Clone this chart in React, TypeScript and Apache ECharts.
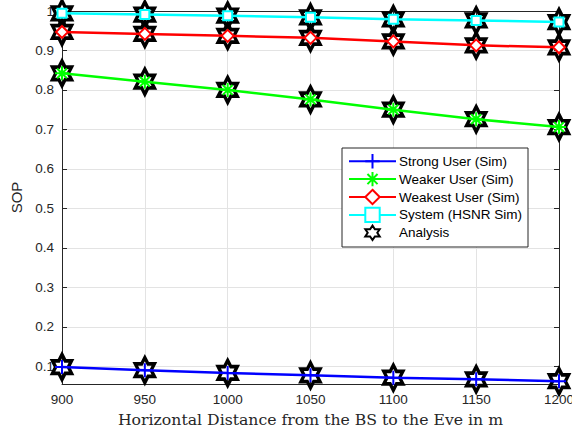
import React, { useEffect, useRef } from "react";
import * as echarts from "echarts";

// Horizontal distance from the BS to the Eve (m)
const distances = [900, 950, 1000, 1050, 1100, 1150, 1200];

// Secrecy outage probability per user / system
const strongUser = [0.098, 0.09, 0.083, 0.077, 0.071, 0.067, 0.062];
const weakerUser = [0.842, 0.821, 0.8, 0.776, 0.75, 0.726, 0.706];
const weakestUser = [0.947, 0.942, 0.937, 0.932, 0.923, 0.913, 0.908];
const systemHsnr = [0.994, 0.991, 0.988, 0.984, 0.979, 0.976, 0.972];

// Marker shapes
const PLUS = "path://M0,-10L0,10M-10,0L10,0";
const ASTERISK = "path://M0,-10L0,10M-10,0L10,0M-7,-7L7,7M-7,7L7,-7";
const HEXAGRAM =
  "path://M0,-1000L288.7,-500L866,-500L577,0L866,500L288.7,500L0,1000L-288.7,500L-866,500L-577,0L-866,-500L-288.7,-500Z";

const pairs = (ys: number[]) => distances.map((x, i) => [x, ys[i]]);

export default function App() {
  const ref = useRef<HTMLDivElement>(null);

  useEffect(() => {
    if (!ref.current) return;
    const chart = echarts.init(ref.current, null, { renderer: "svg" });

    const axisText = { color: "#262626", fontFamily: "Liberation Sans, Arial, sans-serif", fontSize: 13.5 };

    const simSeries = (
      name: string,
      data: number[],
      color: string,
      symbol: string,
      symbolSize: number,
      fill: string
    ) => ({
      name,
      type: "line",
      data: pairs(data),
      symbol,
      symbolSize,
      showAllSymbol: true,
      clip: false,
      z: 3,
      lineStyle: { color, width: 2.5 },
      itemStyle: { color: fill, borderColor: color, borderWidth: 2 },
    });

    const analysisSeries = (data: number[], withName: boolean) => ({
      name: withName ? "Analysis" : "Analysis ",
      type: "line",
      data: pairs(data),
      symbol: HEXAGRAM,
      symbolSize: [22, 25],
      symbolKeepAspect: true,
      clip: false,
      z: 2,
      lineStyle: { width: 0, opacity: 0 },
      itemStyle: { color: "rgba(0,0,0,0)", borderColor: "#000", borderWidth: 3.5 },
    });

    chart.setOption({
      animation: false,
      backgroundColor: "#fff",
      grid: { left: 62, right: 13, top: 11, bottom: 51, containLabel: false, outerBoundsMode: "none" },
      legend: {
        data: [
          "Strong User (Sim)",
          "Weaker User (Sim)",
          "Weakest User (Sim)",
          "System (HSNR Sim)",
          "Analysis",
        ],
        orient: "vertical",
        left: 342,
        top: 148,
        itemWidth: 47,
        itemHeight: 18,
        itemGap: 1.5,
        padding: [5, 6, 6, 6],
        backgroundColor: "#fff",
        borderColor: "#262626",
        borderWidth: 1,
        borderRadius: 0,
        textStyle: { color: "#000", fontFamily: "Liberation Sans, Arial, sans-serif", fontSize: 13.5, padding: [0, 0, 0, -2] },
      },
      xAxis: [
        {
          type: "value",
          min: 900,
          max: 1200,
          interval: 50,
          name: "Horizontal Distance from the BS to the Eve in m",
          nameLocation: "middle",
          nameGap: 27,
          nameTextStyle: { color: "#262626", fontFamily: "DejaVu Serif, serif", fontSize: 15.7 },
          axisLine: { onZero: false, lineStyle: { color: "#262626", width: 1 } },
          axisTick: { inside: true, length: 5, lineStyle: { color: "#262626" } },
          axisLabel: { ...axisText, margin: 8, formatter: (v: number) => String(v) },
          splitLine: { show: true, lineStyle: { color: "#e3e3e3", width: 1 } },
        },
        {
          type: "value",
          position: "top",
          min: 900,
          max: 1200,
          interval: 50,
          axisLine: { onZero: false, lineStyle: { color: "#262626", width: 1 } },
          axisTick: { inside: true, length: 5, lineStyle: { color: "#262626" } },
          axisLabel: { show: false },
          splitLine: { show: false },
        },
      ],
      yAxis: [
        {
          type: "value",
          min: 0.055,
          max: 1,
          splitNumber: 10,
          name: "SOP",
          nameLocation: "middle",
          nameGap: 37,
          nameTextStyle: { color: "#262626", fontFamily: "Liberation Sans, Arial, sans-serif", fontSize: 15 },
          axisLine: { onZero: false, lineStyle: { color: "#262626", width: 1 } },
          axisTick: { inside: true, length: 5, lineStyle: { color: "#262626" } },
          axisLabel: {
            ...axisText,
            margin: 8,
            showMinLabel: false,
            formatter: (v: number) => (Math.abs(v - Math.round(v * 10) / 10) < 1e-6 ? String(Math.round(v * 10) / 10) : ""),
          },
          splitLine: { show: true, lineStyle: { color: "#e3e3e3", width: 1 } },
        },
        {
          type: "value",
          position: "right",
          min: 0.055,
          max: 1,
          splitNumber: 10,
          axisLine: { show: true, onZero: false, lineStyle: { color: "#262626", width: 1 } },
          axisTick: { show: true, inside: true, length: 5, lineStyle: { color: "#262626" } },
          axisLabel: { show: false },
          splitLine: { show: false },
        },
      ],
      series: [
        analysisSeries(strongUser, true),
        analysisSeries(weakerUser, false),
        analysisSeries(weakestUser, false),
        analysisSeries(systemHsnr, false),
        simSeries("Strong User (Sim)", strongUser, "#0000ff", PLUS, 14, "#0000ff"),
        simSeries("Weaker User (Sim)", weakerUser, "#00ff00", ASTERISK, 14, "#00ff00"),
        simSeries("Weakest User (Sim)", weakestUser, "#ff0000", "diamond", 12, "#ffffff"),
        simSeries("System (HSNR Sim)", systemHsnr, "#00ffff", "rect", 9, "#ffffff"),
      ],
    });

    return () => chart.dispose();
  }, []);

  return <div ref={ref} style={{ width: 572, height: 435, position: "absolute", left: 0, top: 0 }} />;
}
